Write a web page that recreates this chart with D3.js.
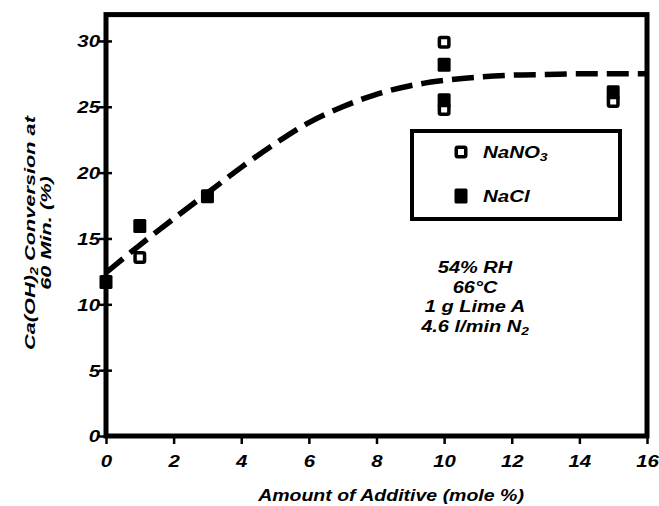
<!doctype html>
<html>
<head>
<meta charset="UTF-8">
<script src="https://d3js.org/d3.v7.min.js"></script>
<style>
  body { margin: 0; background: #fff; }
  text { font-family: "Liberation Sans", Arial, Helvetica, sans-serif; font-weight: bold; font-style: italic; fill: #000; }
</style>
</head>
<body>
<script>
// values
const xTicks = [0, 2, 4, 6, 8, 10, 12, 14, 16];
const yTicks = [0, 5, 10, 15, 20, 25, 30];

const nano3 = [
  {x: 1, y: 13.55}, {x: 10, y: 29.9}, {x: 10, y: 24.8}, {x: 15, y: 25.4}
];
const nacl = [
  {x: 0, y: 11.7}, {x: 1, y: 15.95}, {x: 3, y: 18.2},
  {x: 10, y: 28.2}, {x: 10, y: 25.5}, {x: 15, y: 26.1}
];

// dashed trend line
const fitX = [0, 1, 2, 3, 4, 5, 6, 7, 8, 9, 10, 11, 12, 13, 14, 15, 16];
const fitY = [12.4, 14.5, 16.5, 18.45, 20.4, 22.2, 23.8, 25.0, 25.95, 26.6, 27.0, 27.25, 27.4, 27.45, 27.5, 27.5, 27.5];

const legendItems = [
  {name: "NaNO", sub: "3", open: true},
  {name: "NaCl", sub: "", open: false}
];
const notes = [
  {t: "54% RH", sub: ""},
  {t: "66°C", sub: ""},
  {t: "1 g Lime A", sub: ""},
  {t: "4.6 l/min N", sub: "2"}
];

const W = 659, H = 506;
const pLeft = 106, pRight = 647, pTop = 14.6, pBottom = 436;

const x = d3.scaleLinear().domain([0, 16]).range([pLeft, pRight]);
const y = d3.scaleLinear().domain([0, 32]).range([pBottom, pTop]);

const svg = d3.select("body").append("svg")
  .attr("width", W).attr("height", H);

svg.append("clipPath").attr("id", "plot")
  .append("rect")
  .attr("x", pLeft).attr("y", pTop)
  .attr("width", pRight - pLeft).attr("height", pBottom - pTop);

// axes
const xAxis = svg.append("g")
  .attr("transform", "translate(0," + pBottom + ")")
  .call(d3.axisBottom(x).tickValues(xTicks).tickSizeInner(8).tickSizeOuter(0).tickFormat(d3.format("d")));
xAxis.select(".domain").remove();
xAxis.selectAll("line").attr("stroke", "#000").attr("stroke-width", 2.5);
xAxis.selectAll("text")
  .attr("y", 31).attr("dy", null)
  .attr("font-size", 17)
  .attr("transform", "scale(1.2,1)")
  .attr("fill", "#000");

const yAxis = svg.append("g")
  .attr("transform", "translate(" + pLeft + ",0)")
  .call(d3.axisLeft(y).tickValues(yTicks).tickSizeInner(7).tickSizeOuter(0).tickFormat(d3.format("d")));
yAxis.select(".domain").remove();
yAxis.selectAll("line").attr("stroke", "#000").attr("stroke-width", 2.5);
yAxis.selectAll("text")
  .attr("x", -6 / 1.2).attr("dy", "0.35em")
  .attr("font-size", 17)
  .attr("transform", "scale(1.2,1)")
  .attr("fill", "#000");

const yAxisR = svg.append("g")
  .attr("transform", "translate(" + pLeft + ",0)")
  .call(d3.axisRight(y).tickValues(yTicks).tickSizeInner(6).tickSizeOuter(0).tickFormat(""));
yAxisR.select(".domain").remove();
yAxisR.selectAll("line").attr("stroke", "#000").attr("stroke-width", 2.5);

// frame
svg.append("rect")
  .attr("x", pLeft).attr("y", pTop)
  .attr("width", pRight - pLeft).attr("height", pBottom - pTop)
  .attr("fill", "none").attr("stroke", "#000").attr("stroke-width", 5);

// axis titles
const xt = svg.append("g").attr("transform", "translate(391,501) scale(1.22,1)");
xt.append("text").attr("text-anchor", "middle").attr("font-size", 16)
  .text("Amount of Additive (mole %)");

const yt = svg.append("g").attr("transform", "translate(0,233) rotate(-90)");
const yt1 = yt.append("g").attr("transform", "translate(0,35) scale(1.45,1)");
const l1 = yt1.append("text").attr("text-anchor", "middle").attr("font-size", 15);
l1.append("tspan").text("Ca(OH)");
l1.append("tspan").attr("font-size", 10).attr("dy", 3).text("2");
l1.append("tspan").attr("dy", -3).text(" Conversion at");
const yt2 = yt.append("g").attr("transform", "translate(0,51) scale(1.45,1)");
yt2.append("text").attr("text-anchor", "middle").attr("font-size", 15)
  .text("60 Min. (%)");

// trend line
const line = d3.line()
  .x((d, i) => x(fitX[i]))
  .y(d => y(d))
  .curve(d3.curveMonotoneX);

svg.append("path")
  .datum(fitY)
  .attr("clip-path", "url(#plot)")
  .attr("d", line)
  .attr("fill", "none")
  .attr("stroke", "#000")
  .attr("stroke-width", 5.5)
  .attr("stroke-dasharray", "22,9");

// markers
const S = 13, SW = 3.5;
svg.selectAll(".open").data(nano3).enter().append("rect")
  .attr("class", "open")
  .attr("x", d => x(d.x) - (S - SW) / 2)
  .attr("y", d => y(d.y) - (S - SW) / 2)
  .attr("width", S - SW).attr("height", S - SW)
  .attr("rx", 1.5)
  .attr("fill", "#fff").attr("stroke", "#000").attr("stroke-width", SW);

svg.selectAll(".filled").data(nacl).enter().append("rect")
  .attr("class", "filled")
  .attr("x", d => x(d.x) - S / 2)
  .attr("y", d => y(d.y) - (S + 1) / 2)
  .attr("width", S).attr("height", S + 1)
  .attr("rx", 1.5)
  .attr("fill", "#000");

// legend
const lg = svg.append("g");
lg.append("rect")
  .attr("x", 412).attr("y", 131).attr("width", 208).attr("height", 88)
  .attr("fill", "#fff").attr("stroke", "#000").attr("stroke-width", 4);

legendItems.forEach((d, i) => {
  const cy = 152 + i * 44;
  if (d.open) {
    lg.append("rect")
      .attr("x", 461 - (S - SW) / 2).attr("y", cy - (S - SW) / 2)
      .attr("width", S - SW).attr("height", S - SW).attr("rx", 1.5)
      .attr("fill", "#fff").attr("stroke", "#000").attr("stroke-width", SW);
  } else {
    lg.append("rect")
      .attr("x", 461 - S / 2).attr("y", cy - (S + 2) / 2)
      .attr("width", S).attr("height", S + 2).attr("rx", 1.5)
      .attr("fill", "#000");
  }
  const g = lg.append("g").attr("transform", "translate(483," + (cy + 6) + ") scale(1.28,1)");
  const t = g.append("text").attr("font-size", 16);
  t.append("tspan").text(d.name);
  if (d.sub) t.append("tspan").attr("font-size", 11).attr("dy", 3).text(d.sub);
});

// run conditions
notes.forEach((d, i) => {
  const g = svg.append("g").attr("transform", "translate(475," + (273 + i * 19.5) + ") scale(1.25,1)");
  const t = g.append("text").attr("text-anchor", "middle").attr("font-size", 16);
  t.append("tspan").text(d.t);
  if (d.sub) t.append("tspan").attr("font-size", 11).attr("dy", 3).text(d.sub);
});
</script>
</body>
</html>
